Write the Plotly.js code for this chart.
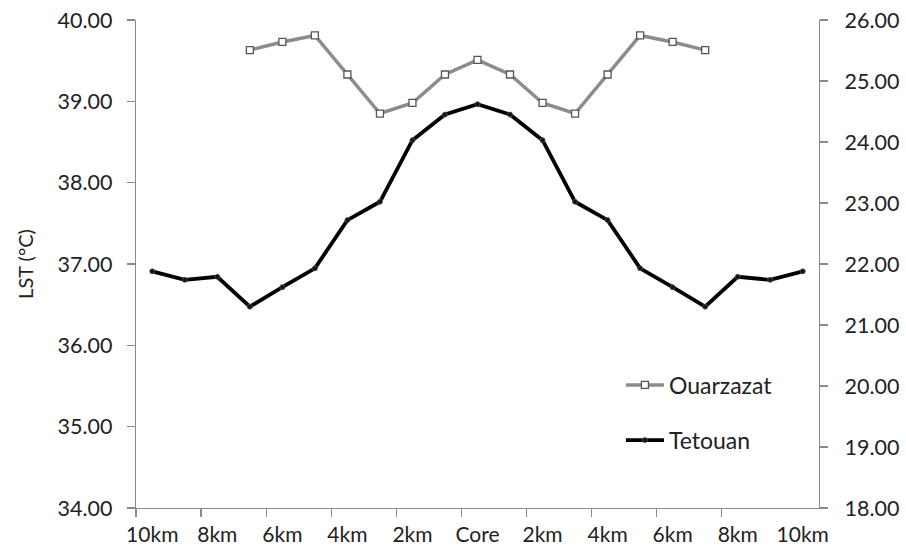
<!DOCTYPE html>
<html>
<head>
<meta charset="utf-8">
<script src="https://cdn.plot.ly/plotly-3.0.1.min.js"></script>
<style>html,body{margin:0;padding:0;background:#fff;}#chart{width:906px;height:556px;}</style>
</head>
<body>
<div id="chart"></div>
<script>
// Distance categories (21 positions, labels every other one)
var categories = ["10km","9km","8km","7km","6km","5km","4km","3km","2km","1km","Core","1km","2km","3km","4km","5km","6km","7km","8km","9km","10km"];
var tickLabels = ["10km","8km","6km","4km","2km","Core","2km","4km","6km","8km","10km"];
// Ouarzazat LST (left axis, °C)
var ouarzazat = [null,null,null,39.63,39.73,39.81,39.33,38.85,38.98,39.33,39.51,39.33,38.98,38.85,39.33,39.81,39.73,39.63,null,null,null];
// Tetouan LST (right axis, °C)
var tetouan = [21.88,21.74,21.79,21.30,21.62,21.93,22.72,23.02,24.03,24.45,24.62,24.45,24.03,23.02,22.72,21.93,21.62,21.30,21.79,21.74,21.88];

var idx = categories.map(function(c,i){return i;});
var labelPos = tickLabels.map(function(t,i){return i*2;});
var boundaryPos = tickLabels.slice(0,10).map(function(t,i){return i*2-0.5;});

var FONT = "Lato, 'Open Sans', sans-serif";
var AXC = "#8a8a8a";
var TXT = "#222";

var traces = [
  {
    x: idx, y: ouarzazat, name: "Ouarzazat", type: "scatter", mode: "lines+markers",
    line: {color: "#8c8c8c", width: 3.5},
    marker: {symbol: "square", size: 7, color: "#ffffff", line: {color: "#555555", width: 1.3}},
    xaxis: "x", yaxis: "y", legend: "legend", connectgaps: false
  },
  {
    x: idx, y: tetouan, name: "Tetouan", type: "scatter", mode: "lines+markers",
    line: {color: "#000000", width: 3.8},
    marker: {symbol: "circle", size: 5, color: "#111111", line: {color: "#555", width: 0.8}},
    xaxis: "x", yaxis: "y2", legend: "legend2"
  }
];

var layout = {
  width: 906, height: 556,
  margin: {l: 136, r: 87, t: 20, b: 48},
  paper_bgcolor: "#fff", plot_bgcolor: "#fff",
  font: {family: FONT, size: 21, color: TXT},
  showlegend: true,
  xaxis: {
    range: [-0.5, 20.5], tickmode: "array", tickvals: labelPos, ticktext: tickLabels,
    ticks: "", showgrid: false, zeroline: false, showline: true, linecolor: AXC, linewidth: 1.2,
    tickfont: {family: FONT, size: 21, color: TXT}, ticklabelstandoff: 8
  },
  xaxis2: {
    overlaying: "x", anchor: "y", side: "bottom", range: [-0.5, 20.5],
    tickmode: "array", tickvals: boundaryPos, showticklabels: false,
    ticks: "outside", ticklen: 8, tickcolor: AXC, tickwidth: 1.2,
    showgrid: false, zeroline: false, showline: false
  },
  yaxis: {
    range: [34, 40], dtick: 1, tick0: 34, tickformat: ".2f",
    ticks: "outside", ticklen: 8, tickcolor: AXC, tickwidth: 1.2,
    showgrid: false, zeroline: false, showline: true, linecolor: AXC, linewidth: 1.2,
    tickfont: {family: FONT, size: 21.5, color: TXT}, ticklabelstandoff: 10,
    title: {text: "LST (°C)", font: {family: FONT, size: 20, color: TXT}, standoff: 18}
  },
  yaxis2: {
    overlaying: "y", side: "right", anchor: "x", range: [18, 26], dtick: 1, tick0: 18, tickformat: ".2f",
    ticks: "outside", ticklen: 8, tickcolor: AXC, tickwidth: 1.2,
    showgrid: false, zeroline: false, showline: true, linecolor: AXC, linewidth: 1.2,
    tickfont: {family: FONT, size: 21.5, color: TXT}, ticklabelstandoff: 12
  },
  legend: {
    x: 0.71, y: 0.252, xanchor: "left", yanchor: "middle",
    bgcolor: "rgba(0,0,0,0)", font: {family: FONT, size: 23, color: TXT}, itemwidth: 38
  },
  legend2: {
    x: 0.71, y: 0.139, xanchor: "left", yanchor: "middle",
    bgcolor: "rgba(0,0,0,0)", font: {family: FONT, size: 23, color: TXT}, itemwidth: 38
  }
};

// dummy invisible trace so the boundary-tick axis is drawn
traces.push({x: [0], y: [null], xaxis: "x2", yaxis: "y", type: "scatter", mode: "none", showlegend: false, hoverinfo: "skip"});

Plotly.newPlot("chart", traces, layout, {staticPlot: true});
</script>
</body>
</html>
